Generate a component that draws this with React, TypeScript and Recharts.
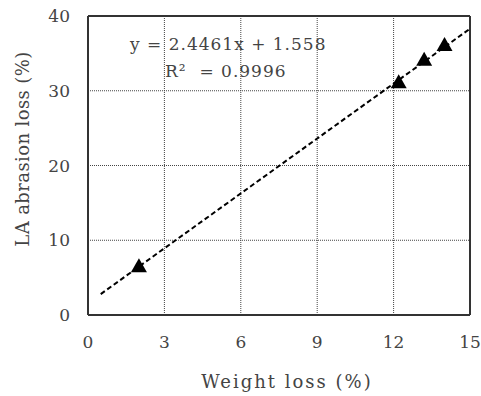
import React from "react";
import {
  ScatterChart,
  Scatter,
  XAxis,
  YAxis,
  CartesianGrid,
  ReferenceLine,
} from "recharts";

const weightLoss = [2.0, 12.2, 13.2, 14.0];
const abrasionLoss = [6.4, 31.0, 34.0, 36.0];

// trend line ends
const trendX = [0.5, 15];
const trendY = [2.8, 38.3];

const xTicks = [0, 3, 6, 9, 12, 15];
const yTicks = [0, 10, 20, 30, 40];

const points = weightLoss.map((x, i) => ({ x, y: abrasionLoss[i] }));
const trend = trendX.map((x, i) => ({ x, y: trendY[i] }));

const font = "'DejaVu Serif', 'Liberation Serif', serif";

const Triangle = (props: any) => {
  const { cx, cy } = props;
  if (cx == null || cy == null) return null;
  return (
    <polygon
      points={`${cx},${cy - 9} ${cx - 8},${cy + 5} ${cx + 8},${cy + 5}`}
      fill="#000"
    />
  );
};

export default function App() {
  return (
    <div
      style={{
        position: "absolute",
        left: 0,
        top: 0,
        width: 481,
        height: 396,
        background: "#fff",
        fontFamily: font,
      }}
    >
      <ScatterChart
        width={481}
        height={396}
        margin={{ top: 16, right: 11, bottom: 51, left: 0 }}
      >
        <CartesianGrid stroke="#444" strokeDasharray="1 1" />
        <XAxis
          type="number"
          dataKey="x"
          domain={[0, 15]}
          ticks={xTicks}
          height={30}
          tickSize={0}
          tickMargin={21}
          axisLine={{ stroke: "#333", strokeWidth: 2 }}
          tick={{ fill: "#444", fontSize: 17, fontFamily: font }}
        />
        <YAxis
          type="number"
          dataKey="y"
          domain={[0, 40]}
          ticks={yTicks}
          width={88}
          tickSize={0}
          tickMargin={18}
          axisLine={{ stroke: "#333", strokeWidth: 2 }}
          tick={{ fill: "#444", fontSize: 17, fontFamily: font }}
        />
        <ReferenceLine x={15} stroke="#333" strokeWidth={2} />
        <ReferenceLine y={40} stroke="#333" strokeWidth={2} />
        <Scatter
          data={trend}
          line={{ stroke: "#000", strokeWidth: 2, strokeDasharray: "5 3" }}
          shape={() => null}
          isAnimationActive={false}
        />
        <Scatter
          data={points}
          shape={Triangle}
          isAnimationActive={false}
        />
      </ScatterChart>
      <div
        style={{
          position: "absolute",
          left: 130,
          top: 34,
          fontSize: 17,
          letterSpacing: 1,
          color: "#444",
          whiteSpace: "pre",
        }}
      >
        y = 2.4461x + 1.558
      </div>
      <div
        style={{
          position: "absolute",
          left: 165,
          top: 61,
          fontSize: 17,
          letterSpacing: 1,
          color: "#444",
          whiteSpace: "pre",
        }}
      >
        R²  = 0.9996
      </div>
      <div
        style={{
          position: "absolute",
          left: 0,
          width: 574,
          textAlign: "center",
          top: 371,
          fontSize: 18,
          letterSpacing: 2,
          color: "#444",
        }}
      >
        Weight loss (%)
      </div>
      <div
        style={{
          position: "absolute",
          left: 22,
          top: 149,
          width: 280,
          textAlign: "center",
          fontSize: 18,
          letterSpacing: 0.4,
          color: "#444",
          transform: "translate(-50%, -50%) rotate(-90deg)",
          whiteSpace: "nowrap",
        }}
      >
        LA abrasion loss (%)
      </div>
    </div>
  );
}
